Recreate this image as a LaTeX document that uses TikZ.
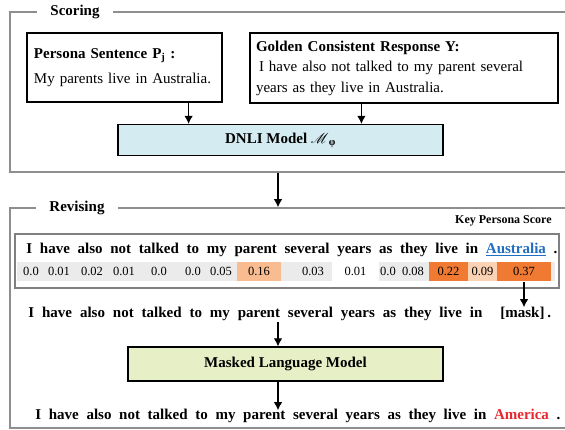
\documentclass[tikz,border=0pt]{standalone}
\usepackage{tikz, xcolor}
\usepackage{fontspec}
\usepackage{mathrsfs}
\setmainfont{Liberation Serif}
\usetikzlibrary{shapes,arrows,arrows.meta}

\definecolor{framegray}{HTML}{8E8E8E}
\definecolor{boxgray}{HTML}{808080}
\definecolor{dnlicyan}{HTML}{D4ECF1}
\definecolor{mlmgreen}{HTML}{E7EFC6}
\definecolor{cellgray}{HTML}{EBEBEB}
\definecolor{celllight}{HTML}{F9BC90}
\definecolor{cellpale}{HTML}{FCD2B4}
\definecolor{celldark}{HTML}{F07A32}
\definecolor{linkblue}{HTML}{1F6EC1}
\definecolor{wordred}{HTML}{E8262D}

\begin{document}
\begin{tikzpicture}[x=1pt, y=-1pt, thick]
\tikzstyle{frame}=[rectangle, draw=framegray, line width=1.5pt, inner sep=0pt]
\tikzstyle{title}=[fill=white, inner xsep=13pt, inner ysep=1pt, font=\fontsize{15}{18}\selectfont\bfseries]
\tikzstyle{vertexr}=[rectangle, draw=black, line width=1.2pt, inner sep=0pt]
\tikzstyle{textr}=[font=\fontsize{15}{20.5}\selectfont, align=left]
\tikzstyle{sentence}=[anchor=base west, inner sep=0pt, font=\fontsize{15}{18}\selectfont\bfseries]
\tikzstyle{cell}=[rectangle, inner sep=0pt, minimum height=19.5pt, font=\fontsize{12.5}{14}\selectfont]
\tikzstyle{drawstyle}=[line width=1.2pt, -{Latex[length=8pt,width=8.5pt]}]

\useasboundingbox (0,0) rectangle (565,430);

% Scoring
\node[frame, minimum width=565pt, minimum height=160pt] (scoring) at (292.5,92) {};
\node[title] (scoringtitle) at (75,12) {Scoring};
\node[vertexr, textr, minimum width=195pt, minimum height=69pt, text width=181pt] (persona) at (124.5,67.5)
  {{\bfseries Persona Sentence P\textsubscript{j} :}\\[5pt] My parents live in Australia.};
\node[vertexr, textr, minimum width=308pt, minimum height=70pt, text width=296pt] (golden) at (404,68)
  {{\bfseries Golden Consistent Response Y:}\\ \hspace{3pt}I have also not talked to my parent several\\ years as they live in Australia.};
\node[vertexr, fill=dnlicyan, minimum width=325pt, minimum height=31pt, font=\fontsize{15}{18}\selectfont\bfseries] (dnli) at (280.5,140)
  {DNLI Model $\mathscr{M}$\textsubscript{φ}};
\draw[drawstyle] ([xshift=-34pt]persona.south east) -- ([xshift=-34pt]persona.south east |- dnli.north);
\draw[drawstyle] ([xshift=112pt]golden.south west) -- ([xshift=112pt]golden.south west |- dnli.north);

% Revising
\coordinate (spine) at (278,0);
\node[frame, minimum width=565pt, minimum height=220pt] (revising) at (292.5,318) {};
\node[title] (revisingtitle) at (77,208) {Revising};
\draw[drawstyle] (scoring.south -| spine) -- (revising.north -| spine);
\node[anchor=east, inner sep=0pt, font=\fontsize{12}{14}\selectfont\bfseries] (keyscore) at (552,221) {Key Persona Score};

\node[rectangle, draw=boxgray, line width=1.5pt, minimum width=544pt, minimum height=54pt] (scorebox) at (287,261) {};
\node[sentence] (origsent) at (26,254)
  {\makebox[531pt][s]{I have also not talked to my parent several years as they live in \textcolor{linkblue}{\underline{Australia}} .}};

\node[cell, fill=cellgray, minimum width=538pt] (band) at (286,271.5) {};
\node[cell] (s1) at (31,271.5) {0.0};
\node[cell] (s2) at (59,271.5) {0.01};
\node[cell] (s3) at (92,271.5) {0.02};
\node[cell] (s4) at (124,271.5) {0.01};
\node[cell] (s5) at (159,271.5) {0.0};
\node[cell] (s6) at (193,271.5) {0.0};
\node[cell] (s7) at (221,271.5) {0.05};
\node[cell, fill=celllight, minimum width=44pt] (s8) at (259,271.5) {0.16};
\node[cell] (s9) at (313,271.5) {0.03};
\node[cell, fill=white, minimum width=47pt] (s10) at (355.5,271.5) {0.01};
\node[cell] (s11) at (388,271.5) {0.0};
\node[cell] (s12) at (413,271.5) {0.08};
\node[cell, fill=celldark, minimum width=39pt] (s13) at (448.5,271.5) {0.22};
\node[cell, fill=cellpale, minimum width=29pt] (s14) at (482.5,271.5) {0.09};
\node[cell, fill=celldark, minimum width=54pt] (s15) at (524,271.5) {0.37};

\node[sentence] (masksent) at (28,318)
  {\makebox[454pt][s]{I have also not talked to my parent several years as they live in}};
\node[sentence] (mask) at (500,318) {[mask]};
\node[sentence] (maskdot) at (547,318) {.};
\draw[drawstyle] (s15.south) -- (s15.south |- mask.north);

\node[vertexr, fill=mlmgreen, minimum width=315pt, minimum height=34pt, font=\fontsize{15}{18}\selectfont\bfseries] (mlm) at (285.5,364)
  {Masked Language Model};
\draw[drawstyle] (masksent.south -| spine) -- (mlm.north -| spine);

\node[sentence] (newsent) at (35,419)
  {\makebox[525pt][s]{I have also not talked to my parent several years as they live in \textcolor{wordred}{America} .}};
\draw[drawstyle] (mlm.south -| spine) -- ([yshift=-2pt]newsent.north -| spine);
\end{tikzpicture}
\end{document}
